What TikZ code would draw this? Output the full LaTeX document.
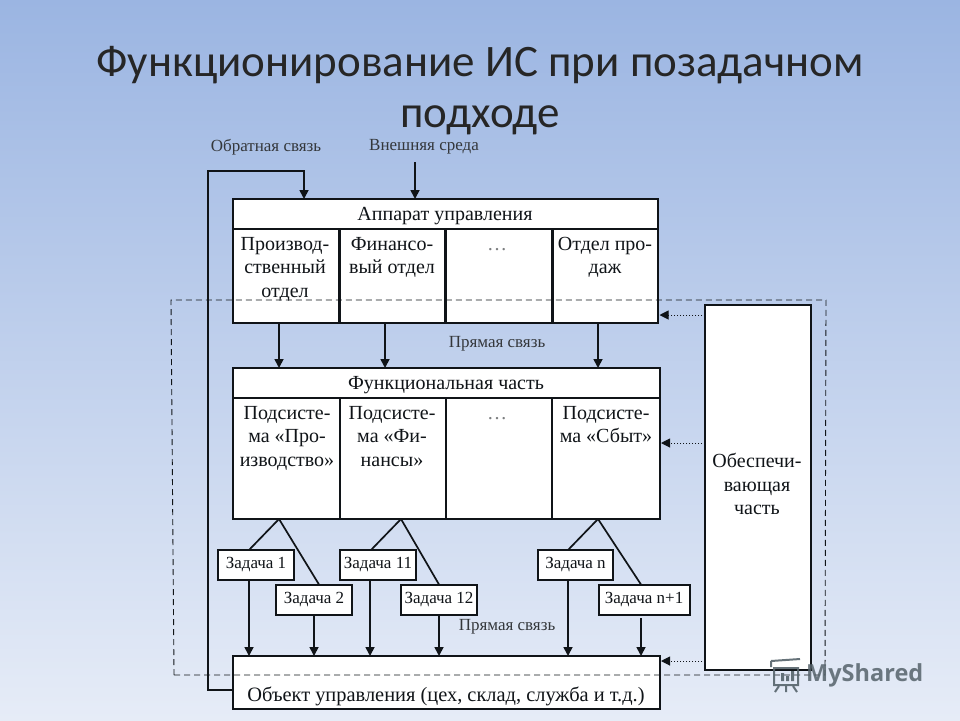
\documentclass[tikz,border=0pt]{standalone}
\usepackage{fontspec}
\setmainfont{Liberation Serif}
\newfontfamily\titlefont{Carlito}
\newfontfamily\markfont{Open Sans}
\usetikzlibrary{arrows.meta}
\definecolor{inkc}{HTML}{101418}
\definecolor{bgtop}{HTML}{9BB5E2}
\definecolor{bgmid}{HTML}{BCCEEA}
\definecolor{bgbot}{HTML}{E6ECF7}
\definecolor{markc}{HTML}{56636B}
\tikzset{
  x=1pt,y=-1pt,
  framebox/.style={draw=inkc,fill=white,line width=2pt,inner sep=0pt,outer sep=0pt,anchor=north west},
  cell/.style={font=\fontsize{20}{23.5}\selectfont,align=center,anchor=north,inner sep=0pt,text=inkc},
  head/.style={font=\fontsize{20}{22}\selectfont,anchor=center,inner sep=0pt,text=inkc},
  note/.style={font=\fontsize{17}{19}\selectfont,anchor=center,inner sep=0pt,text=inkc!85!white},
  taskbox/.style={framebox,font=\fontsize{17}{19}\selectfont,text=inkc,minimum height=30pt},
  divider/.style={draw=inkc,line width=3pt},
  flow/.style={draw=inkc,line width=1.7pt,-{Triangle[length=9pt,width=9pt]}},
  plainline/.style={draw=inkc,line width=1.7pt},
  dotflow/.style={draw=inkc,line width=1pt,dotted,-{Triangle[length=9pt,width=9pt]}},
  dashline/.style={draw=inkc,line width=0.9pt,dash pattern=on 6pt off 4pt},
  titletext/.style={font=\titlefont\fontsize{45}{51}\selectfont,text=black!85,align=center,anchor=center,inner sep=0pt},
}
\begin{document}
\begin{tikzpicture}
\useasboundingbox (0,0) rectangle (960,720);
\shade[top color=bgtop,middle color=bgmid,bottom color=bgbot] (0,0) rectangle (960,720);

\node[titletext] (title) at (480,90.5) {Функционирование ИС при позадачном\\подходе};
\node[note] (nback) at (266,147) {Обратная связь};
\node[note] (next) at (424,147) {Внешняя среда};
\coordinate (extstart) at (415,162);
\coordinate (backcorner) at (208,171);

% control apparatus
\node[framebox,minimum width=425pt,minimum height=30pt] (ctlhead) at (233,199) {};
\node[head] (ctlname) at (445,216) {Аппарат управления};
\node[framebox,minimum width=106pt,minimum height=94pt] (d1) at (233,229) {};
\node[framebox,minimum width=106pt,minimum height=94pt] (d2) at (339,229) {};
\node[framebox,minimum width=107pt,minimum height=94pt] (d3) at (445,229) {};
\node[framebox,minimum width=106pt,minimum height=94pt] (d4) at (552,229) {};
\draw[divider] (d2.north west) -- (d2.south west);
\draw[divider] (d3.north west) -- (d3.south west);
\draw[divider] (d4.north west) -- (d4.south west);

% functional part
\node[framebox,minimum width=427pt,minimum height=30pt] (fnhead) at (233,368) {};
\node[head] (fnname) at (446,385) {Функциональная часть};
\node[framebox,minimum width=106.5pt,minimum height=121pt] (s1) at (233,398) {};
\node[framebox,minimum width=106.5pt,minimum height=121pt] (s2) at (339.5,398) {};
\node[framebox,minimum width=106pt,minimum height=121pt] (s3) at (446,398) {};
\node[framebox,minimum width=108pt,minimum height=121pt] (s4) at (552,398) {};

% tasks
\node[taskbox,minimum width=76pt] (t1) at (218,550) {Задача 1};
\node[taskbox,minimum width=76pt] (t2) at (276,584.5) {Задача 2};
\node[taskbox,minimum width=76pt] (t11) at (340,550) {Задача 11};
\node[taskbox,minimum width=76pt] (t12) at (401,584.5) {Задача 12};
\node[taskbox,minimum width=75pt] (tn) at (538,550) {Задача n};
\node[taskbox,minimum width=91pt] (tn1) at (598.5,584.5) {Задача n+1};

% object, support
\node[framebox,minimum width=427pt,minimum height=53pt] (obj) at (233,656) {};
\node[framebox,minimum width=106pt,minimum height=365pt] (sup) at (705,305) {};

% cell texts
\node[cell] (d1t) at (285,237) {Производ-\\ственный\\отдел};
\node[cell] (d2t) at (392,237) {Финансо-\\вый отдел};
\node[cell,text=inkc!55!white] (d3t) at (497,248.5) {…};
\node[cell] (d4t) at (605,237) {Отдел про-\\даж};
\node[cell] (s1t) at (287,406) {Подсисте-\\ма «Про-\\изводство»};
\node[cell] (s2t) at (392,406) {Подсисте-\\ма «Фи-\\нансы»};
\node[cell,text=inkc!55!white] (s3t) at (497,417) {…};
\node[cell] (s4t) at (606,406) {Подсисте-\\ма «Сбыт»};
\node[cell] (supt) at (757,453) {Обеспечи-\\вающая\\часть};
\node[font=\fontsize{20.4}{23}\selectfont,anchor=center,inner sep=0pt,text=inkc] (objt) at (446,696) {Объект управления (цех, склад, служба и т.д.)};

\node[note] (ndirect1) at (497,344) {Прямая связь};
\node[note] (ndirect2) at (507,627) {Прямая связь};

% connectors
\draw[flow] (extstart) -- (ctlhead.north -| extstart);
\draw[flow] (obj.west |- 0,690) -- (208,690) -- (backcorner) -- (304,171) -- (ctlhead.north -| 304,0);
\draw[flow] (d1.south -| 279,0) -- (fnhead.north -| 279,0);
\draw[flow] (d2.south -| 385,0) -- (fnhead.north -| 385,0);
\draw[flow] (d4.south -| 598,0) -- (fnhead.north -| 598,0);

\draw[plainline] (s1.south -| 279,0) -- (t1.north -| 249,0);
\draw[plainline] (s1.south -| 279,0) -- (t2.north -| 319,0);
\draw[plainline] (s2.south -| 401,0) -- (t11.north -| 371,0);
\draw[plainline] (s2.south -| 401,0) -- (t12.north -| 439,0);
\draw[plainline] (s4.south -| 598,0) -- (tn.north -| 568,0);
\draw[plainline] (s4.south -| 598,0) -- (tn1.north -| 641,0);

\draw[flow] (t1.south -| 249,0) -- (obj.north -| 249,0);
\draw[flow] (t2.south -| 314,0) -- (obj.north -| 314,0);
\draw[flow] (t11.south -| 370,0) -- (obj.north -| 370,0);
\draw[flow] (t12.south -| 439,0) -- (obj.north -| 439,0);
\draw[flow] (tn.south -| 568,0) -- (obj.north -| 568,0);
\draw[flow] (641,618) -- (obj.north -| 641,0);

\draw[dotflow] (sup.west |- 0,315) -- (659.5,315);
\draw[dotflow] (sup.west |- 0,443) -- (661,443);
\draw[dotflow] (sup.west |- 0,661) -- (661,661);

\draw[dashline] (174,675) -- (171,300) -- (826,300) -- (825,675) -- cycle;

% watermark
\node[font=\markfont\bfseries\fontsize{23.5}{28}\selectfont,text=markc,anchor=west,inner sep=0pt,opacity=.85] (mark) at (806,675) {MyShared};
\begin{scope}[draw=markc,line width=2pt,opacity=.9]
  \draw (771,661) -- (800,659) (771,661) -- (771,667) (774,668) rectangle (798,685);
  \draw (779,686) -- (775,692) (793,686) -- (797,692) (786,686) -- (786,692);
  \fill[markc] (781,673) rectangle (784,681) (786,676) rectangle (789,681) (791,671) rectangle (794,681);
\end{scope}
\end{tikzpicture}
\end{document}
